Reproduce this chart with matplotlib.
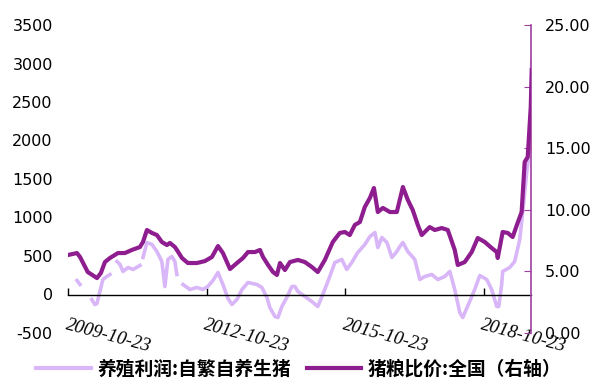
import matplotlib
matplotlib.use("Agg")
import matplotlib.pyplot as plt
import numpy as np
import pandas as pd
from matplotlib.lines import Line2D

# ---- data (None = gap in the series) ----
profit_dates = [
    "2010-01-02", "2010-01-26", None,
    "2010-04-29", "2010-05-23", "2010-06-09", "2010-07-02", "2010-07-26", "2010-08-26", "2010-09-20", None,
    "2010-11-14", "2010-12-08", "2011-01-01", "2011-02-10", "2011-03-21", "2011-05-15", None,
    "2011-06-08", "2011-07-09", "2011-08-18", "2011-09-26", "2011-11-04", "2011-11-28", "2011-12-22",
    "2012-01-23", "2012-02-15", "2012-03-02", None,
    "2012-04-19", "2012-06-13", "2012-08-07", "2012-09-24", "2012-11-02", "2012-12-12",
    "2013-01-21", "2013-03-01", "2013-04-10", "2013-05-11", "2013-06-20", "2013-07-30",
    "2013-09-15", "2013-11-25", "2014-01-03", "2014-02-12", "2014-03-07", "2014-04-16",
    "2014-05-10", "2014-06-10", "2014-07-19", "2014-08-28", "2014-09-21", "2014-10-15",
    "2014-12-09", "2015-02-02", "2015-03-21", "2015-04-30", "2015-06-24", "2015-08-03",
    "2015-09-27", "2015-11-05", "2015-12-15", "2016-01-31", "2016-03-27", "2016-05-06",
    "2016-06-15", "2016-07-08", "2016-08-09", "2016-09-18", "2016-10-27", "2016-12-05",
    "2016-12-29", "2017-01-22", "2017-03-02", "2017-04-26", "2017-06-05", "2017-07-14",
    "2017-09-08", "2017-10-25", "2017-12-19", "2018-01-28", "2018-03-08", "2018-04-17",
    "2018-05-10", "2018-07-04", "2018-08-13", "2018-09-22", "2018-11-16", "2018-12-25",
    "2019-02-03", "2019-02-19", "2019-03-14", "2019-03-22", "2019-05-17", "2019-06-25",
    "2019-08-04", "2019-08-27", "2019-09-28", "2019-10-14", "2019-10-30", "2019-11-07",
]
profit_values = [
    182, 130, None,
    -65, -130, -117, 39, 195, 234, 260, None,
    429, 390, 299, 351, 325, 377, None,
    481, 675, 649, 558, 429, 104, 455,
    494, 429, 260, None,
    130, 65, 91, 65, 104, 182,
    286, 130, -52, -130, -65, 65,
    156, 130, 91, -39, -169, -286,
    -299, -156, -39, 104, 104, 39,
    -26, -91, -156, 0, 234, 416,
    455, 325, 416, 545, 649, 753,
    805, 610, 740, 675, 481, 558,
    623, 675, 558, 455, 195, 234,
    260, 195, 234, 299, 65, -234,
    -299, -91, 65, 247, 195, 65,
    -156, -156, 130, 299, 351, 429,
    714, 1065, 1584, 1792, 2312, 3052,
]

ratio_dates = [
    "2009-10-23", "2010-01-02", "2010-01-26", "2010-03-28", "2010-06-09", "2010-07-10", "2010-08-11",
    "2010-09-20", "2010-11-22", "2011-01-16", "2011-03-12", "2011-05-15", "2011-06-08", "2011-07-09",
    "2011-08-18", "2011-09-26", "2011-11-04", "2011-12-14", "2012-01-07", "2012-02-15", "2012-03-02",
    "2012-04-11", "2012-05-28", "2012-08-07", "2012-10-10", "2012-12-04", "2013-01-21", "2013-03-01",
    "2013-04-26", "2013-06-20", "2013-08-07", "2013-09-15", "2013-11-09", "2013-12-19", "2014-01-12",
    "2014-02-21", "2014-04-01", "2014-05-02", "2014-05-26", "2014-07-04", "2014-08-13", "2014-10-15",
    "2014-12-09", "2015-02-02", "2015-03-21", "2015-05-16", "2015-07-18", "2015-09-11", "2015-10-21",
    "2015-11-29", "2016-01-08", "2016-02-17", "2016-03-27", "2016-05-06", "2016-06-07", "2016-07-08",
    "2016-08-17", "2016-10-11", "2016-12-05", "2017-01-22", "2017-03-02", "2017-04-10", "2017-05-20",
    "2017-06-20", "2017-07-14", "2017-08-22", "2017-10-01", "2017-11-25", "2018-01-12", "2018-03-08",
    "2018-04-01", "2018-05-26", "2018-07-20", "2018-09-06", "2018-10-31", "2018-12-25", "2019-02-03",
    "2019-02-11", "2019-03-22", "2019-05-01", "2019-06-09", "2019-07-18", "2019-08-19", "2019-09-12",
    "2019-10-06", "2019-10-30", "2019-11-07",
]
ratio_values = [
    6.33, 6.49, 6.17, 4.95, 4.46, 4.87, 5.76,
    6.09, 6.49, 6.49, 6.74, 6.98, 7.39, 8.36,
    8.12, 7.95, 7.39, 7.14, 7.31, 6.98, 6.74,
    6.09, 5.68, 5.68, 5.84, 6.17, 7.06, 6.49,
    5.19, 5.68, 6.09, 6.57, 6.57, 6.74, 6.17,
    5.52, 4.95, 4.71, 5.68, 5.11, 5.76, 5.93,
    5.76, 5.36, 4.95, 5.93, 7.39, 8.12, 8.20,
    7.95, 8.77, 9.01, 10.23, 10.96, 11.77, 9.82,
    10.15, 9.82, 9.82, 11.85, 10.80, 9.98, 8.77,
    7.95, 8.20, 8.60, 8.36, 8.52, 8.36, 6.74,
    5.52, 5.76, 6.57, 7.71, 7.39, 6.90, 6.57,
    6.09, 8.20, 8.12, 7.79, 8.93, 9.82, 13.88,
    14.29, 18.34, 21.35,
]

yticks_left = [-500, 0, 500, 1000, 1500, 2000, 2500, 3000, 3500]
yticks_right = [0, 5, 10, 15, 20, 25]
xtick_labels = ["2009-10-23", "2012-10-23", "2015-10-23", "2018-10-23"]
legend_labels = ["养殖利润:自繁自养生猪", "猪粮比价:全国（右轴）"]

LIGHT = "#D9B6F7"
DARK = "#8E1E8F"

plt.rcParams["font.family"] = ["DejaVu Sans"]


def to_series(dates, values):
    d = pd.Series(pd.to_datetime([x if x is not None else pd.NaT for x in dates])).bfill().values
    v = np.array([np.nan if x is None else x for x in values], dtype=float)
    return d, v


p_dates, p_vals = to_series(profit_dates, profit_values)
r_dates, r_vals = to_series(ratio_dates, ratio_values)

fig = plt.figure(figsize=(5.98, 3.80), dpi=100)
ax = fig.add_axes([68 / 598, 1 - 333 / 380, (531 - 68) / 598, (333 - 25) / 380])
ax2 = ax.twinx()

ax.plot(p_dates, p_vals, color=LIGHT, lw=2.6, zorder=2)
ax2.plot(r_dates, r_vals, color=DARK, lw=3.0, zorder=3)

ax.set_ylim(-500, 3500)
ax2.set_ylim(0, 25)
ax.set_xlim(pd.Timestamp("2009-10-23"), pd.Timestamp("2019-11-01"))

for s in ["left", "right", "top"]:
    ax.spines[s].set_visible(False)
ax.spines["bottom"].set_position(("data", 0))
ax.spines["bottom"].set_color("black")
ax.spines["bottom"].set_linewidth(1.0)

ax.set_yticks(yticks_left)
ax.set_yticklabels([str(v) for v in yticks_left])
ax.tick_params(axis="y", length=0, pad=11, labelsize=11.5)

xt = pd.to_datetime(xtick_labels)
ax.set_xticks(xt)
ax.set_xticklabels(xtick_labels, rotation=-15, ha="left", rotation_mode="anchor",
                   fontfamily="Liberation Serif", fontstyle="italic", fontsize=13.5)
ax.tick_params(axis="x", direction="in", length=5, width=1, pad=16)

for s in ["left", "top", "bottom"]:
    ax2.spines[s].set_visible(False)
ax2.spines["right"].set_color("#A040A0")
ax2.spines["right"].set_linewidth(1.2)
ax2.set_yticks(yticks_right)
ax2.set_yticklabels([f"{v:.2f}" for v in yticks_right])
ax2.tick_params(axis="y", direction="in", length=5, color="#A040A0", pad=10, labelsize=11.5)

handles = [Line2D([], [], color=LIGHT, lw=3), Line2D([], [], color=DARK, lw=3)]
fig.legend(handles, legend_labels, loc="center", bbox_to_anchor=(0.5, 0.028), ncol=2,
           frameon=False, handlelength=2.9, handletextpad=0.35, columnspacing=0.85,
           borderpad=0.0,
           prop={"family": ["Noto Sans CJK SC", "DejaVu Sans"], "size": 13.5, "weight": "bold"})

fig.savefig("out.png", dpi=100)
